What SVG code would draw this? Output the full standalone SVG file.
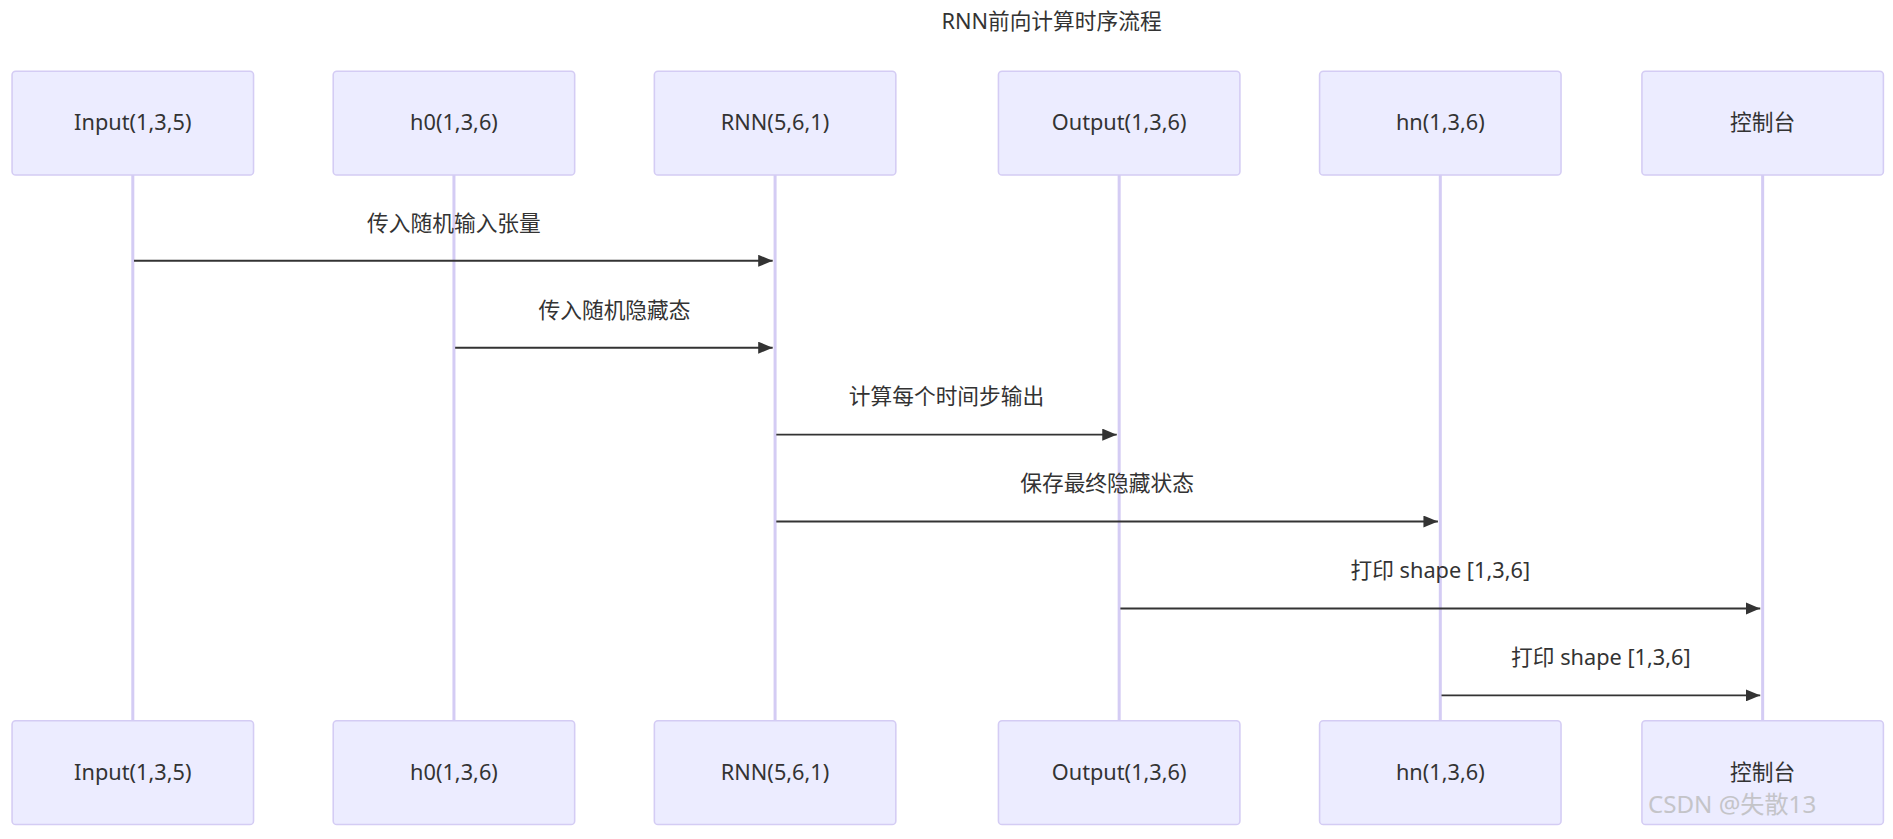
<svg xmlns="http://www.w3.org/2000/svg" width="1893" height="839" viewBox="0 0 1893 839">
<style>
text{font-family:"Noto Sans","Noto Sans CJK SC",sans-serif;fill:#333;font-size:18px;text-anchor:middle}
.actor{fill:#ECECFF;stroke:#D4CCF4;stroke-width:1.3}
.life{stroke:#D4CCF4;stroke-width:2.5}
.msg{stroke:#333;stroke-width:1.6;fill:none;marker-end:url(#ah)}
</style>
<defs><marker id="ah" viewBox="0 0 12 10" refX="12" refY="5" markerWidth="12" markerHeight="10" markerUnits="userSpaceOnUse" orient="auto"><path d="M0,0L12,5L0,10z" fill="#333"/></marker></defs>
<rect width="1893" height="839" fill="#fff"/>
<g transform="scale(1.2073)">
<text x="871" y="24">RNN前向计算时序流程</text>
<g id="lifelines">
<line class="life" x1="110" y1="145" x2="110" y2="597"/>
<line class="life" x1="376" y1="145" x2="376" y2="597"/>
<line class="life" x1="642" y1="145" x2="642" y2="597"/>
<line class="life" x1="927" y1="145" x2="927" y2="597"/>
<line class="life" x1="1193" y1="145" x2="1193" y2="597"/>
<line class="life" x1="1460" y1="145" x2="1460" y2="597"/>
</g>
<g id="input"><rect class="actor" x="10" y="59" width="200" height="86" rx="3"/><text x="110" y="108">Input(1,3,5)</text><rect class="actor" x="10" y="597" width="200" height="86" rx="3"/><text x="110" y="646">Input(1,3,5)</text></g>
<g id="h0"><rect class="actor" x="276" y="59" width="200" height="86" rx="3"/><text x="376" y="108">h0(1,3,6)</text><rect class="actor" x="276" y="597" width="200" height="86" rx="3"/><text x="376" y="646">h0(1,3,6)</text></g>
<g id="rnn"><rect class="actor" x="542" y="59" width="200" height="86" rx="3"/><text x="642" y="108">RNN(5,6,1)</text><rect class="actor" x="542" y="597" width="200" height="86" rx="3"/><text x="642" y="646">RNN(5,6,1)</text></g>
<g id="output"><rect class="actor" x="827" y="59" width="200" height="86" rx="3"/><text x="927" y="108">Output(1,3,6)</text><rect class="actor" x="827" y="597" width="200" height="86" rx="3"/><text x="927" y="646">Output(1,3,6)</text></g>
<g id="hn"><rect class="actor" x="1093" y="59" width="200" height="86" rx="3"/><text x="1193" y="108">hn(1,3,6)</text><rect class="actor" x="1093" y="597" width="200" height="86" rx="3"/><text x="1193" y="646">hn(1,3,6)</text></g>
<g id="console"><rect class="actor" x="1360" y="59" width="200" height="86" rx="3"/><text x="1460" y="108">控制台</text><rect class="actor" x="1360" y="597" width="200" height="86" rx="3"/><text x="1460" y="646">控制台</text></g>
<g id="connectors">
<line class="msg" x1="111" y1="216" x2="640" y2="216"/><text x="376" y="191">传入随机输入张量</text>
<line class="msg" x1="377" y1="288" x2="640" y2="288"/><text x="509" y="263">传入随机隐藏态</text>
<line class="msg" x1="643" y1="360" x2="925" y2="360"/><text x="784" y="335">计算每个时间步输出</text>
<line class="msg" x1="643" y1="432" x2="1191" y2="432"/><text x="917" y="407">保存最终隐藏状态</text>
<line class="msg" x1="928" y1="504" x2="1458" y2="504"/><text x="1193" y="479">打印 shape [1,3,6]</text>
<line class="msg" x1="1194" y1="576" x2="1458" y2="576"/><text x="1326" y="551">打印 shape [1,3,6]</text>
</g>
<text x="1492" y="673" style="fill:#bbb;font-size:20px;text-anchor:start" opacity="0.8" dx="-127">CSDN @失散13</text>
</g>
</svg>
